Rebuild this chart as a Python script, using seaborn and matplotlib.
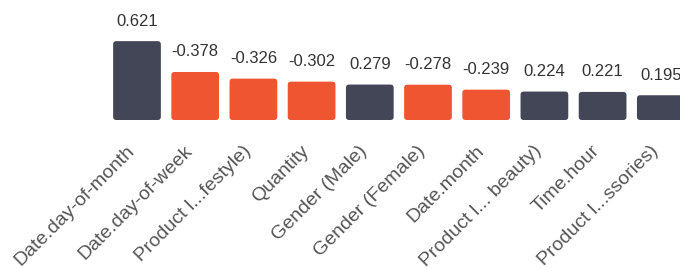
"""
Feature correlation bar chart: bar height = |r|, colour = sign.
"""

import matplotlib
matplotlib.use("Agg")
import matplotlib.pyplot as plt
import matplotlib.transforms as mtransforms
from matplotlib.patches import FancyBboxPatch
import seaborn as sns
import pandas as pd

features = [
    "Date.day-of-month", "Date.day-of-week", "Product l...festyle)", "Quantity",
    "Gender (Male)", "Gender (Female)", "Date.month", "Product l... beauty)",
    "Time.hour", "Product l...ssories)",
]
correlations = [0.621, -0.378, -0.326, -0.302, 0.279, -0.278, -0.239, 0.224, 0.221, 0.195]

POS_COLOR = "#424656"
NEG_COLOR = "#EE5530"

df = pd.DataFrame({"feature": features, "r": correlations})
df["abs_r"] = df["r"].abs()
df["sign"] = ["pos" if v > 0 else "neg" for v in df["r"]]

sns.set_style("white")
plt.rcParams["font.family"] = ["Liberation Sans", "DejaVu Sans"]

PX_X = 58.2   # pixels per category
PX_Y = 127.0  # pixels per unit of |r|

fig = plt.figure(figsize=(6.8, 2.69), dpi=100)
ax = fig.add_axes([0, 149 / 269, 1, 120 / 269])

sns.barplot(
    data=df, x="feature", y="abs_r", hue="sign",
    palette={"pos": POS_COLOR, "neg": NEG_COLOR}, saturation=1,
    width=0.82, dodge=False, legend=False, ax=ax,
)

# Swap the plain rectangles for rounded ones
for patch in list(ax.patches):
    x, y = patch.get_x(), patch.get_y()
    w, h = patch.get_width(), patch.get_height()
    if h == 0:
        continue
    color = patch.get_facecolor()
    patch.remove()
    ax.add_patch(FancyBboxPatch(
        (x, y), w, h,
        boxstyle="round,pad=0,rounding_size=0.055",
        mutation_aspect=PX_X / PX_Y,
        facecolor=color, edgecolor="none",
    ))

for i, v in enumerate(df["r"]):
    ax.annotate(
        f"{v:.3f}", (i, abs(v)), xytext=(0, 9), textcoords="offset points",
        ha="center", va="bottom", fontsize=12, color="#333333",
    )

ax.set_xlim(-137 / PX_X, -137 / PX_X + 680 / PX_X)
ax.set_ylim(0, 120 / PX_Y)
ax.set_xlabel("")
ax.set_ylabel("")
ax.set_yticks([])
ax.tick_params(axis="x", length=0, pad=14)
shift = mtransforms.ScaledTranslation(-5 / 100, -9 / 100, fig.dpi_scale_trans)
for lbl in ax.get_xticklabels():
    lbl.set_rotation(45)
    lbl.set_ha("right")
    lbl.set_va("center")
    lbl.set_rotation_mode("anchor")
    lbl.set_fontsize(14)
    lbl.set_color("#555555")
    lbl.set_transform(lbl.get_transform() + shift)
sns.despine(ax=ax, left=True, bottom=True)

plt.savefig("out.png", dpi=100)
plt.close()
